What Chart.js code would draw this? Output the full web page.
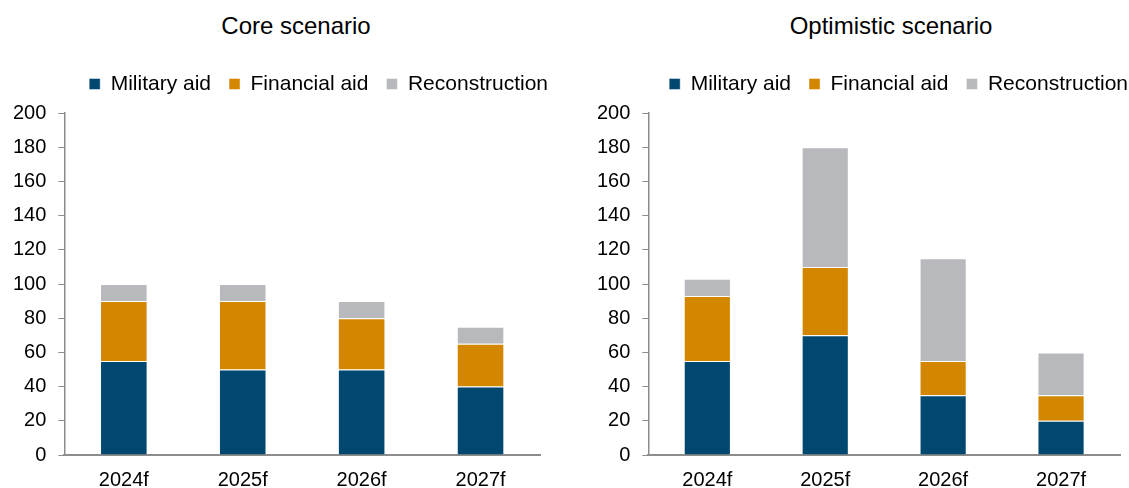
<!DOCTYPE html>
<html>
<head>
<meta charset="utf-8">
<script src="https://cdn.jsdelivr.net/npm/chart.js@4/dist/chart.umd.min.js"></script>
<style>
  html, body { margin: 0; padding: 0; background: #fff; overflow: hidden; }
  #wrap { position: relative; width: 1129px; height: 488px; overflow: hidden; }
  .title { position: absolute; top: 14px; width: 260px; text-align: center; font-family: "Liberation Sans", Arial, sans-serif; font-size: 24px; line-height: 24px; color: #000; }
  canvas { position: absolute; top: 0; }
</style>
</head>
<body>
<div id="wrap">
  <div class="title" style="left:166px">Core scenario</div>
  <div class="title" style="left:761px">Optimistic scenario</div>
  <canvas id="coreChart" width="560" height="505" style="left:0"></canvas>
  <canvas id="optChart" width="545" height="505" style="left:584px"></canvas>
</div>
<script>
const categories = ['2024f', '2025f', '2026f', '2027f'];
const seriesNames = ['Military aid', 'Financial aid', 'Reconstruction'];

const coreMilitary = [55, 50, 50, 40];
const coreFinancial = [35, 40, 30, 25];
const coreReconstruction = [10, 10, 10, 10];

const optMilitary = [55, 70, 35, 20];
const optFinancial = [38, 40, 20, 15];
const optReconstruction = [10, 70, 60, 25];

const colors = ['#00486F', '#D38600', '#B8B9BC'];
const axisGray = '#8C8C8C';
const fontFamily = '"Liberation Sans", Arial, sans-serif';

// moves the legend so that its last label ends at a given x
const legendPlace = {
    id: 'legendPlace',
    afterLayout(chart, args, opts) {
        const lg = chart.legend;
        if (!lg) return;
        const pad = lg.options.labels.padding;
        const dx = opts.end + pad - lg.right;
        lg.left += dx;
        lg.right += dx;
        lg.top += opts.dy;
        lg.bottom += opts.dy;
    }
};

function renderStackedChart(canvasId, military, financial, reconstruction, legendEnd, padRight) {
    const ctx = document.getElementById(canvasId).getContext('2d');
    const values = [military, financial, reconstruction];
    const datasets = values.map((data, i) => ({
        label: seriesNames[i],
        data: data,
        backgroundColor: colors[i],
        borderColor: 'rgba(255,255,255,0.45)',
        borderWidth: 1,
        barPercentage: 0.4,
        categoryPercentage: 1.0
    }));
    return new Chart(ctx, {
        type: 'bar',
        data: { labels: categories, datasets: datasets },
        plugins: [legendPlace],
        options: {
            responsive: false,
            animation: false,
            devicePixelRatio: 1,
            layout: { padding: { top: 64, left: 1, right: padRight, bottom: 0 } },
            plugins: {
                title: { display: false },
                tooltip: { enabled: false },
                legend: {
                    position: 'top',
                    align: 'end',
                    labels: {
                        boxWidth: 11,
                        boxHeight: 11,
                        padding: 18,
                        color: '#000',
                        font: { family: fontFamily, size: 21 }
                    }
                },
                legendPlace: { end: legendEnd, dy: -8.5 }
            },
            scales: {
                x: {
                    stacked: true,
                    grid: { display: false, drawTicks: false },
                    border: { display: true, color: axisGray, width: 2 },
                    ticks: { color: '#000', padding: 13, font: { family: fontFamily, size: 20 } }
                },
                y: {
                    stacked: true,
                    min: 0,
                    max: 200,
                    grid: { display: true, drawOnChartArea: false, drawTicks: true, tickLength: 6, color: axisGray },
                    border: { display: true, color: axisGray, width: 1.5 },
                    ticks: { stepSize: 20, color: '#000', padding: 12, font: { family: fontFamily, size: 20 } }
                }
            }
        }
    });
}

renderStackedChart('coreChart', coreMilitary, coreFinancial, coreReconstruction, 548, 20);
renderStackedChart('optChart', optMilitary, optFinancial, optReconstruction, 544, 9);
</script>
</body>
</html>
